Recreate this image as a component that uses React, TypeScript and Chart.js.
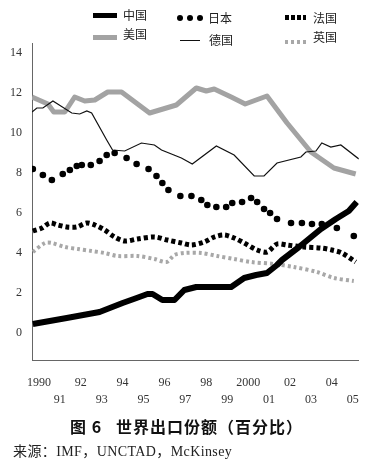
import React, { useEffect, useRef } from "react";
import { Chart, registerables } from "chart.js";

Chart.register(...registerables);

// ---- Data (world export share, %) ----
const tickYears = [1990, 1991, 1992, 1993, 1994, 1995, 1996, 1997, 1998, 1999, 2000, 2001, 2002, 2003, 2004, 2005];
const tickLabels = ["1990", "91", "92", "93", "94", "95", "96", "97", "98", "99", "2000", "01", "02", "03", "04", "05"];
const yTickValues = [0, 2, 4, 6, 8, 10, 12, 14];

const chinaX = [1989.71, 1991.33, 1992.9, 1994.0, 1994.67, 1995.19, 1995.43, 1995.9, 1996.48, 1996.95, 1997.52, 1999.19, 1999.81, 2000.38, 2000.9, 2001.38, 2001.62, 2002.43, 2003.48, 2004.19, 2004.81, 2005.19];
const chinaY = [0.45, 0.75, 1.05, 1.5, 1.75, 1.95, 1.95, 1.65, 1.65, 2.15, 2.3, 2.3, 2.75, 2.9, 3.0, 3.4, 3.65, 4.3, 5.2, 5.7, 6.1, 6.55];

const usX = [1989.67, 1990.43, 1990.71, 1991.24, 1991.71, 1992.19, 1992.67, 1993.29, 1993.95, 1995.29, 1996.57, 1997.52, 1998.0, 1998.38, 1999.19, 1999.86, 2000.9, 2001.86, 2003.0, 2004.1, 2005.14];
const usY = [11.8, 11.45, 11.05, 11.05, 11.8, 11.6, 11.65, 12.05, 12.05, 11.0, 11.4, 12.25, 12.1, 12.2, 11.8, 11.45, 11.85, 10.5, 9.05, 8.25, 7.95];

const germanyX = [1989.67, 1989.9, 1990.19, 1990.67, 1991.57, 1991.95, 1992.29, 1992.52, 1993.24, 1993.52, 1994.1, 1994.9, 1995.52, 1995.86, 1996.81, 1997.33, 1998.48, 1999.33, 2000.29, 2000.76, 2001.38, 2002.52, 2002.76, 2003.24, 2003.52, 2003.95, 2004.43, 2005.29];
const germanyY = [11.05, 11.25, 11.25, 11.6, 11.0, 10.95, 11.1, 11.0, 9.65, 9.15, 9.1, 9.5, 9.4, 9.15, 8.75, 8.45, 9.35, 8.9, 7.85, 7.85, 8.5, 8.8, 9.05, 9.1, 9.5, 9.3, 9.4, 8.7];

const japanX = [1989.71, 1990.19, 1990.62, 1991.14, 1991.48, 1991.81, 1992.05, 1992.48, 1992.9, 1993.24, 1993.62, 1994.19, 1994.67, 1995.24, 1995.62, 1995.9, 1996.19, 1996.76, 1997.29, 1997.76, 1998.05, 1998.48, 1998.95, 1999.24, 1999.71, 2000.14, 2000.43, 2000.76, 2001.05, 2001.38, 2002.05, 2002.57, 2003.05, 2003.52, 2004.24, 2005.05];
const japanY = [8.2, 7.9, 7.65, 7.95, 8.15, 8.35, 8.4, 8.4, 8.6, 8.9, 9.0, 8.75, 8.45, 8.2, 7.85, 7.5, 7.15, 6.85, 6.85, 6.65, 6.4, 6.3, 6.3, 6.5, 6.55, 6.75, 6.55, 6.2, 6.0, 5.7, 5.5, 5.5, 5.45, 5.45, 5.25, 4.85];

const franceX = [1989.71, 1990.14, 1990.52, 1990.9, 1991.33, 1991.81, 1992.29, 1992.67, 1993.14, 1993.62, 1994.1, 1994.71, 1995.52, 1996.14, 1996.81, 1997.29, 1997.9, 1998.38, 1998.86, 1999.33, 1999.81, 2000.43, 2000.9, 2001.38, 2001.86, 2002.67, 2003.48, 2004.0, 2004.48, 2005.14];
const franceY = [5.1, 5.25, 5.5, 5.4, 5.3, 5.3, 5.5, 5.4, 5.15, 4.8, 4.6, 4.7, 4.8, 4.65, 4.5, 4.4, 4.55, 4.8, 4.9, 4.75, 4.5, 4.15, 4.05, 4.45, 4.4, 4.3, 4.25, 4.15, 4.0, 3.55];

const ukX = [1989.71, 1990.29, 1990.62, 1991.24, 1991.86, 1992.52, 1993.14, 1993.76, 1994.71, 1995.52, 1996.1, 1996.48, 1996.95, 1997.76, 1998.52, 1999.33, 2000.14, 2001.24, 2002.19, 2003.29, 2004.1, 2005.05];
const ukY = [4.05, 4.5, 4.5, 4.3, 4.2, 4.1, 4.0, 3.85, 3.85, 3.7, 3.55, 3.9, 4.0, 4.0, 3.85, 3.7, 3.55, 3.45, 3.3, 3.05, 2.75, 2.6];

const pts = (xs: number[], ys: number[]) => xs.map((x, i) => ({ x, y: ys[i] }));

const SERIF = '"Liberation Serif", "DejaVu Serif", serif';
const CJK = '"Noto Sans CJK SC", "Noto Sans", sans-serif';

export default function App() {
  const ref = useRef<HTMLCanvasElement | null>(null);

  useEffect(() => {
    if (!ref.current) return;
    const chart = new Chart(ref.current, {
      type: "line",
      data: {
        datasets: [
          { label: "中国", data: pts(chinaX, chinaY), borderColor: "#000", borderWidth: 6, pointRadius: 0, tension: 0, borderJoinStyle: "round" },
          { label: "日本", data: pts(japanX, japanY), showLine: false, pointRadius: 3.3, pointBackgroundColor: "#000", pointBorderWidth: 0, borderColor: "#000" },
          { label: "法国", data: pts(franceX, franceY), borderColor: "#000", borderWidth: 5, borderDash: [4, 3], pointRadius: 0, tension: 0.3 },
          { label: "德国", data: pts(germanyX, germanyY), borderColor: "#111", borderWidth: 1.2, pointRadius: 0, tension: 0 },
          { label: "美国", data: pts(usX, usY), borderColor: "#a3a3a3", borderWidth: 5, pointRadius: 0, tension: 0, borderJoinStyle: "round" },
          { label: "英国", data: pts(ukX, ukY), borderColor: "#a8a8a8", borderWidth: 4, borderDash: [3, 3], pointRadius: 0, tension: 0.3 },
        ],
      },
      options: {
        animation: false,
        responsive: false,
        layout: { padding: { top: 43, right: 13, left: 0, bottom: 0 } },
        plugins: { legend: { display: false }, tooltip: { enabled: false } },
        scales: {
          x: {
            type: "linear",
            min: 1989.67,
            max: 2005.29,
            grid: { display: false, drawTicks: false },
            border: { display: true, color: "#666", width: 1 },
            afterBuildTicks: (s: any) => {
              s.ticks = tickYears.map((v) => ({ value: v }));
            },
            afterFit: (s: any) => {
              s.height = 60;
            },
            ticks: {
              autoSkip: false,
              maxRotation: 0,
              padding: 14,
              color: "#333",
              font: { family: SERIF, size: 12, lineHeight: 1.42 },
              callback: (v: any) => {
                const i = tickYears.indexOf(Number(v));
                if (i < 0) return "";
                return i % 2 === 0 ? [tickLabels[i], ""] : ["", tickLabels[i]];
              },
            },
          },
          y: {
            min: -1.35,
            max: 14.5,
            grid: { display: false, drawTicks: false },
            border: { display: true, color: "#666", width: 1 },
            afterBuildTicks: (s: any) => {
              s.ticks = yTickValues.map((v) => ({ value: v }));
            },
            afterFit: (s: any) => {
              s.width = 32;
            },
            ticks: {
              padding: 10,
              color: "#333",
              font: { family: SERIF, size: 12 },
              callback: (v: any) => String(v),
            },
          },
        },
      },
    });
    return () => chart.destroy();
  }, []);

  const txt = (left: number, top: number, s: string) => (
    <div style={{ position: "absolute", left, top, fontFamily: CJK, fontSize: 12, lineHeight: "14px", color: "#222" }}>{s}</div>
  );
  const bar = (left: number, top: number, width: number, height: number, bg: string) => (
    <div style={{ position: "absolute", left, top, width, height, background: bg }} />
  );
  const dash = (left: number, top: number, width: number, height: number, color: string, on: number, off: number) => (
    <div
      style={{
        position: "absolute",
        left,
        top,
        width,
        height,
        background: `repeating-linear-gradient(to right, ${color} 0px, ${color} ${on}px, transparent ${on}px, transparent ${on + off}px)`,
      }}
    />
  );
  const dot = (cx: number, cy: number) => (
    <div style={{ position: "absolute", left: cx - 3, top: cy - 3, width: 6, height: 6, borderRadius: 3, background: "#000" }} />
  );

  return (
    <div style={{ position: "absolute", left: 0, top: 0, width: 373, height: 468, background: "#fff", overflow: "hidden" }}>
      <canvas ref={ref} width={373} height={420} style={{ position: "absolute", left: 0, top: 0 }} />
      {/* legend */}
      {bar(93, 13, 24, 5, "#000")}
      {txt(123, 8, "中国")}
      {dot(180, 18)}
      {dot(190, 18)}
      {dot(200, 18)}
      {txt(208, 11, "日本")}
      {dash(285, 15, 21, 5, "#000", 4, 2)}
      {txt(313, 11, "法国")}
      {bar(93, 35, 24, 5, "#a3a3a3")}
      {txt(123, 27, "美国")}
      {bar(180, 40, 20, 1, "#111")}
      {txt(209, 33, "德国")}
      {dash(285, 40, 21, 4, "#a8a8a8", 3, 3)}
      {txt(313, 30, "英国")}
      {/* title */}
      <div
        style={{
          position: "absolute",
          left: 0,
          top: 416,
          width: 373,
          textAlign: "center",
          fontFamily: CJK,
          fontWeight: 700,
          fontSize: 16,
          lineHeight: "21px",
          letterSpacing: 1,
          color: "#111",
          whiteSpace: "pre",
        }}
      >
        {"图 6   世界出口份额（百分比）"}
      </div>
      <div
        style={{
          position: "absolute",
          left: 13,
          top: 443,
          fontFamily: `${SERIF.split(",")[0]}, ${CJK}`,
          fontSize: 14,
          lineHeight: "18px",
          letterSpacing: 0.4,
          color: "#222",
          whiteSpace: "pre",
        }}
      >
        {"来源：IMF，UNCTAD，McKinsey"}
      </div>
    </div>
  );
}
